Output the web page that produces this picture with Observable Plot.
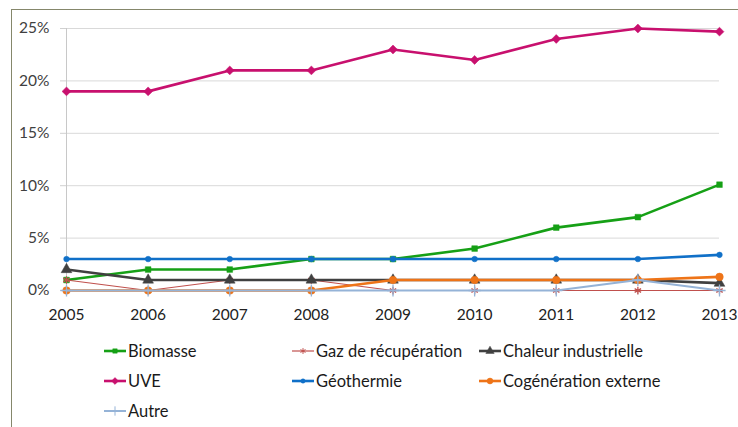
<!DOCTYPE html>
<html>
<head>
<meta charset="utf-8">
<script src="https://cdn.jsdelivr.net/npm/d3@7"></script>
<script src="https://cdn.jsdelivr.net/npm/@observablehq/plot@0.6"></script>
<style>
  html, body { margin: 0; padding: 0; background: #fff; }
  #wrap { position: relative; width: 738px; height: 427px; overflow: hidden; font-family: Lato, "Open Sans", sans-serif; }
  #frame { position: absolute; left: 11px; top: 9px; width: 800px; height: 500px; border-left: 1.5px solid #85876b; border-top: 1.5px solid #85876b; pointer-events: none; }
  #chart { position: absolute; left: 0; top: 0; }
  .leg { position: absolute; display: flex; align-items: center; font-size: 16.5px; color: #1a1a1a; white-space: nowrap; }
  .leg svg { margin-right: 2px; }
</style>
</head>
<body>
<div id="wrap">
  <div id="chart"></div>
  <div id="frame"></div>
  <div id="legend"></div>
</div>
<script>
const years = [2005, 2006, 2007, 2008, 2009, 2010, 2011, 2012, 2013];
const seriesNames = ["Biomasse", "Gaz de récupération", "Chaleur industrielle", "UVE", "Géothermie", "Cogénération externe", "Autre"];
const biomasse      = [1, 2, 2, 3, 3, 4, 6, 7, 10.1];
const gazRecup      = [1, 0, 1, 1, 0, 0, 0, 0, 0];
const chaleurInd    = [2, 1, 1, 1, 1, 1, 1, 1, 0.7];
const uve           = [19, 19, 21, 21, 23, 22, 24, 25, 24.7];
const geothermie    = [3, 3, 3, 3, 3, 3, 3, 3, 3.4];
const cogeneration  = [0, 0, 0, 0, 1, 1, 1, 1, 1.3];
const autre         = [0, 0, 0, 0, 0, 0, 0, 1, 0];
const yTicks = [0, 5, 10, 15, 20, 25];

const seriesValues = [biomasse, gazRecup, chaleurInd, uve, geothermie, cogeneration, autre];
const colors  = ["#16a016", "#c0504d", "#404040", "#c8106e", "#1070c8", "#ee7418", "#95b3d7"];
const symbols = ["square", "asterisk", "triangle", "diamond2", "circle", "circle", "plus"];
const widths  = [2.6, 1.2, 2.6, 2.6, 2.6, 2.6, 2];
const rs      = [3.2, 3.5, 4, 4, 2.8, 3.8, 4];

const data = [];
seriesNames.forEach((name, i) => {
  years.forEach((yr, j) => data.push({series: name, idx: i, year: yr, value: seriesValues[i][j]}));
});

const marks = [
  Plot.ruleY(yTicks, {stroke: "#d9d9d9", strokeWidth: 1}),
  Plot.ruleX([2005], {y1: 0, y2: 25, stroke: "#c8c8c8"}),
  Plot.axisY({ticks: yTicks, tickFormat: d => d + "%", tickSize: 6, tickPadding: 11, stroke: "#d0d0d0", fill: "#404040", fontSize: 15.5, label: null}),
  Plot.axisX({ticks: years, tickFormat: d => String(d), tickSize: 5, tickPadding: 13, stroke: "#c8c8c8", fill: "#222", fontSize: 15.5, label: null})
];
seriesNames.forEach((name, i) => {
  const d = data.filter(r => r.idx === i);
  marks.push(Plot.line(d, {x: "year", y: "value", stroke: colors[i], strokeWidth: widths[i], curve: "linear"}));
  const sym = symbols[i];
  const filled = !(sym === "asterisk" || sym === "plus");
  marks.push(Plot.dot(d, {x: "year", y: "value", symbol: () => sym, r: rs[i],
    fill: filled ? colors[i] : "none", stroke: colors[i], strokeWidth: filled ? 0.5 : 1.3}));
});

const chart = Plot.plot({
  width: 738, height: 427,
  marginLeft: 66, marginRight: 19, marginTop: 28, marginBottom: 137,
  style: {fontFamily: "Lato, 'Open Sans', sans-serif", background: "transparent", overflow: "visible"},
  x: {domain: [2005, 2013], type: "linear"},
  y: {domain: [0, 25]},
  symbol: {type: "identity"},
  marks
});
document.getElementById("chart").append(chart);

// Legend (HTML) with swatches drawn by d3
const legPos = [[104, 351], [292, 351], [479, 351], [104, 381], [292, 381], [479, 381], [104, 411]];
const legend = document.getElementById("legend");
seriesNames.forEach((name, i) => {
  const div = document.createElement("div");
  div.className = "leg";
  div.style.left = legPos[i][0] + "px";
  div.style.top = (legPos[i][1] - 10) + "px";
  div.style.height = "20px";
  const svg = d3.create("svg").attr("width", 22).attr("height", 20);
  svg.append("line").attr("x1", 0).attr("x2", 22).attr("y1", 10).attr("y2", 10)
    .attr("stroke", colors[i]).attr("stroke-width", widths[i]);
  const sym = symbols[i];
  const filled = !(sym === "asterisk" || sym === "plus");
  const symMap = {square: d3.symbolSquare, asterisk: d3.symbolAsterisk, triangle: d3.symbolTriangle, diamond2: d3.symbolDiamond2, circle: d3.symbolCircle, plus: d3.symbolPlus};
  const size = Math.PI * rs[i] * rs[i] * 0.6;
  svg.append("path").attr("transform", "translate(11,10)")
    .attr("d", d3.symbol(symMap[sym], size)())
    .attr("fill", filled ? colors[i] : "none").attr("stroke", colors[i]).attr("stroke-width", filled ? 0.5 : 1);
  div.append(svg.node());
  const span = document.createElement("span");
  span.textContent = name;
  div.append(span);
  legend.append(div);
});
</script>
</body>
</html>
